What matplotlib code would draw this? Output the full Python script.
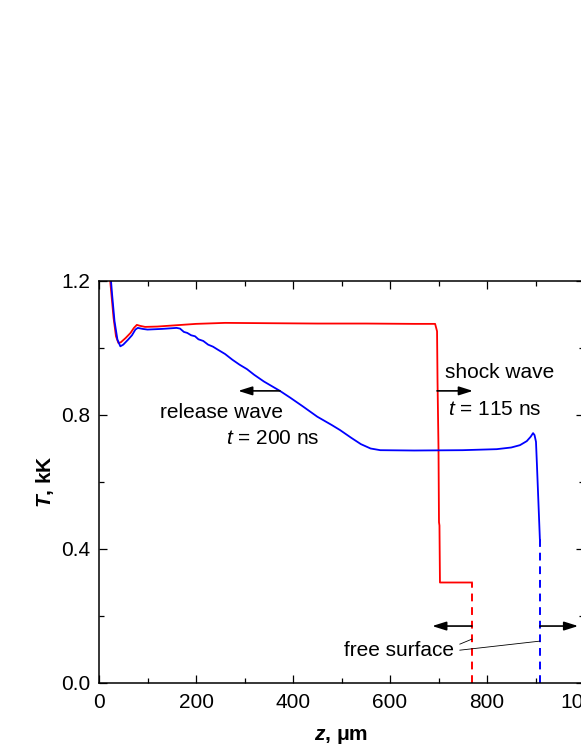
import matplotlib
matplotlib.use('Agg')
import matplotlib.pyplot as plt
from matplotlib.ticker import MultipleLocator

# PARAMS ----------------------------------------------------------------------
plt.rcParams['font.family'] = ['Liberation Sans', 'DejaVu Sans']
plt.rcParams['mathtext.fontset'] = 'custom'
plt.rcParams['mathtext.it'] = 'Liberation Sans:italic'
plt.rcParams['mathtext.bfit'] = 'Liberation Sans:italic:bold'
plt.rcParams['mathtext.rm'] = 'Liberation Sans'
plt.rcParams['mathtext.bf'] = 'Liberation Sans:bold'
fs = 15
# END PARAMS ------------------------------------------------------------------

# t = 115 ns (red)
z_red = [20, 25, 30, 35, 40, 45, 55, 65, 72, 78, 85, 95, 120, 160, 200, 260,
         350, 450, 550, 650, 693, 697, 698, 700, 701, 702, 703, 769]
T_red = [1.25, 1.17, 1.09, 1.035, 1.015, 1.017, 1.03, 1.045, 1.06, 1.069,
         1.066, 1.063, 1.064, 1.068, 1.072, 1.075, 1.074, 1.073, 1.073, 1.072,
         1.072, 1.05, 0.90, 0.70, 0.48, 0.47, 0.30, 0.30]

# t = 200 ns (blue)
z_blue = [22, 27, 32, 38, 44, 50, 60, 68, 75, 80, 90, 100, 130, 160, 167, 175,
          182, 190, 198, 205, 215, 225, 235, 245, 260, 275, 290, 305, 320, 340,
          373, 394, 420, 450, 480, 497, 520, 540, 560, 580, 650, 750, 820, 850,
          868, 882, 890, 895, 898, 901, 903, 906, 909]
T_blue = [1.25, 1.16, 1.08, 1.025, 1.005, 1.01, 1.025, 1.038, 1.055, 1.06,
          1.057, 1.055, 1.057, 1.06, 1.058, 1.048, 1.045, 1.038, 1.035, 1.026,
          1.021, 1.010, 1.004, 0.995, 0.982, 0.965, 0.95, 0.937, 0.920, 0.900,
          0.872, 0.852, 0.826, 0.795, 0.770, 0.755, 0.732, 0.713, 0.700, 0.695,
          0.694, 0.695, 0.698, 0.703, 0.71, 0.722, 0.735, 0.746, 0.74, 0.72,
          0.65, 0.54, 0.43]

# free surface positions (dashed)
z_fs = [769, 909]
T_fs_top = [0.30, 0.43]
fs_colors = ['#ff0000', '#0000ff']

fig = plt.figure(figsize=(5.81, 7.52), dpi=100)
ax = fig.add_axes([99 / 581, 69 / 752, 485 / 581, 402 / 752])

ax.plot(z_red, T_red, color='#ff0000', lw=1.3)
ax.plot(z_blue, T_blue, color='#0000ff', lw=1.3)
for z, t, c in zip(z_fs, T_fs_top, fs_colors):
    ax.plot([z, z], [0, t], color=c, lw=1.4, ls=(0, (4, 3)))

ax.set_xlim(0, 1000)
ax.set_ylim(0, 1.2)
ax.xaxis.set_major_locator(MultipleLocator(200))
ax.xaxis.set_minor_locator(MultipleLocator(100))
ax.yaxis.set_major_locator(MultipleLocator(0.4))
ax.yaxis.set_minor_locator(MultipleLocator(0.2))
ax.yaxis.set_major_formatter(matplotlib.ticker.FormatStrFormatter('%.1f'))
ax.tick_params(which='both', direction='in', top=True, right=True,
               width=0.9, labelsize=fs)
ax.tick_params(which='major', length=6)
ax.tick_params(which='minor', length=3.5)
ax.tick_params(axis='x', pad=7)
ax.tick_params(axis='y', pad=6)
for s in ax.spines.values():
    s.set_linewidth(1.1)

ax.set_xlabel(r'$\mathbfit{z}$, μm', fontsize=fs, fontweight='bold', labelpad=11)
ax.set_ylabel(r'$\mathbfit{T}$, kK', fontsize=fs, fontweight='bold', labelpad=4)

arrow = dict(arrowstyle='-|>,head_length=0.7,head_width=0.22', color='k',
             lw=1.2, mutation_scale=12, shrinkA=0, shrinkB=0)

# release wave
ax.annotate('', xy=(287, 0.872), xytext=(373, 0.872), arrowprops=arrow)
ax.text(126, 0.806, 'release wave', fontsize=fs, va='center', ha='left')
ax.text(262, 0.731, r'$t$ = 200 ns', fontsize=fs, va='center', ha='left')

# shock wave
ax.annotate('', xy=(771, 0.872), xytext=(697, 0.872), arrowprops=arrow)
ax.text(713, 0.928, 'shock wave', fontsize=fs, va='center', ha='left')
ax.text(720, 0.815, r'$t$ = 115 ns', fontsize=fs, va='center', ha='left')

# free surface
ax.annotate('', xy=(687, 0.170), xytext=(769, 0.170), arrowprops=arrow)
ax.annotate('', xy=(988, 0.170), xytext=(909, 0.170), arrowprops=arrow,
            annotation_clip=False)
ax.text(505, 0.0985, 'free surface', fontsize=fs, va='center', ha='left')
ax.plot([744, 769], [0.116, 0.131], color='k', lw=0.6)
ax.plot([744, 909], [0.098, 0.125], color='k', lw=0.6)

plt.savefig('out.png', dpi=100)
plt.close()
